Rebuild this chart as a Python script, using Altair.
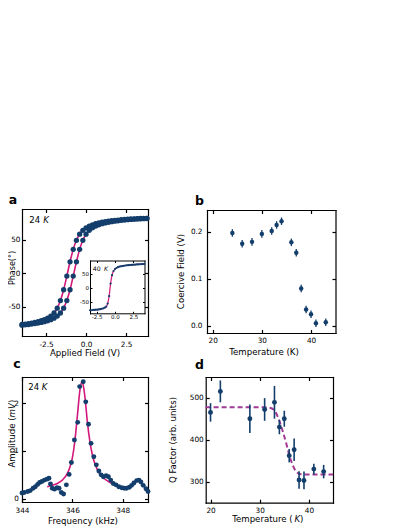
import altair as alt
import pandas as pd

W, H = 391, 519
FONT = "DejaVu Sans"
NAVY = "#133e6c"
MAGENTA = "#d3187b"
PURPLE = "#a23a95"
INK = "#000000"

# ---------------- (a) phase vs applied field, 24 K ----------------
field_a = [-4.0, -3.8, -3.6, -3.4, -3.2, -3.0, -2.8, -2.6, -2.4, -2.2,
           -2.0, -1.8, -1.6, -1.4, -1.2, -1.0, -0.8, -0.6, -0.4, -0.2,
           0.0, 0.2, 0.4, 0.6, 0.8, 1.0, 1.2, 1.4, 1.6, 1.8,
           2.0, 2.2, 2.4, 2.6, 2.8, 3.0, 3.2, 3.4, 3.6, 3.8]
phase_a_down = [-76.8, -76.1, -75.4, -74.6, -73.7, -72.6, -71.2, -69.6, -67.4, -64.2,
                -59.6, -52.3, -41.0, -24.8, -4.4, 17.0, 35.6, 49.2, 58.3, 64.1,
                67.9, 70.5, 72.4, 74.0, 75.2, 76.2, 77.0, 77.8, 78.4, 79.0,
                79.5, 80.0, 80.4, 80.8, 81.1, 81.3, 81.6, 81.8, 82.0, 82.1]
phase_a_up = [-77.8, -77.3, -76.8, -76.1, -75.4, -74.6, -73.7, -72.6, -71.2, -69.6,
              -67.4, -64.2, -59.6, -52.3, -41.0, -24.8, -4.4, 17.0, 35.6, 49.2,
              58.3, 64.1, 67.9, 70.5, 72.4, 74.0, 75.2, 76.2, 77.0, 77.8,
              78.4, 79.0, 79.5, 80.0, 80.4, 80.8, 81.1, 81.3, 81.6, 81.8]

# ---------------- (a inset) 40 K ----------------
field_in = [-3.4, -3.2, -3.0, -2.8, -2.6, -2.4, -2.2, -2.0, -1.8, -1.6,
            -1.4, -1.2, -1.0, -0.8, -0.6, -0.4, -0.2, 0.0, 0.2, 0.4,
            0.6, 0.8, 1.0, 1.2, 1.4, 1.6, 1.8, 2.0, 2.2, 2.4,
            2.6, 2.8, 3.0, 3.2, 3.4, 3.6, 3.8, 4.0]
phase_in = [-81, -81, -80, -80, -79, -79, -78, -77, -76, -74,
            -72, -68, -57, -30, 15, 45, 60, 67, 71, 74,
            76, 77, 78, 79, 80, 80.5, 81, 81.5, 82, 82.5,
            83, 83.5, 84, 84, 84.5, 85, 85, 85.5]

# ---------------- (b) coercive field vs temperature ----------------
temp_b = [24, 26, 28, 30, 32, 33, 34, 36, 37, 38, 39, 40, 41, 43]
coercive_b = [0.198, 0.175, 0.179, 0.196, 0.202, 0.215, 0.223, 0.178, 0.156, 0.080,
              0.035, 0.025, 0.006, 0.008]
coercive_err_b = [0.008, 0.008, 0.008, 0.008, 0.008, 0.008, 0.008, 0.008, 0.008, 0.008,
                  0.008, 0.008, 0.008, 0.008]

# ---------------- (c) amplitude vs frequency, 24 K ----------------
freq_c = [344.0, 344.09, 344.23, 344.33, 344.44, 344.53, 344.62, 344.70, 344.79, 344.89, 344.99,
          345.07, 345.13, 345.20, 345.29, 345.39, 345.47, 345.56, 345.65, 345.76, 345.87,
          345.96, 346.08, 346.21, 346.29, 346.43, 346.53, 346.64, 346.74, 346.85, 346.95,
          347.05, 347.14, 347.23, 347.34, 347.43, 347.52, 347.62, 347.73, 347.84, 347.96,
          348.06, 348.15, 348.26, 348.35, 348.44, 348.55, 348.64, 348.72, 348.81, 348.92,
          349.0]
amp_c = [0.12, 0.13, 0.15, 0.17, 0.22, 0.25, 0.30, 0.34, 0.36, 0.39, 0.41,
         0.43, 0.31, 0.22, 0.20, 0.23, 0.22, 0.13, 0.10, 0.29, 0.51,
         0.76, 1.23, 1.60, 2.35, 2.45, 2.03, 1.56, 1.16, 0.88, 0.71,
         0.58, 0.50, 0.46, 0.48, 0.46, 0.39, 0.32, 0.29, 0.25, 0.23,
         0.22, 0.22, 0.24, 0.28, 0.33, 0.38, 0.39, 0.35, 0.28, 0.21,
         0.15]
fit_freq_c = [345.0, 345.2, 345.4, 345.6, 345.8, 345.9, 346.0, 346.1, 346.2, 346.3,
              346.37, 346.45, 346.5, 346.6, 346.7, 346.8, 346.9, 347.0, 347.2, 347.4, 347.6]
fit_amp_c = [0.25, 0.28, 0.32, 0.39, 0.53, 0.66, 0.86, 1.22, 1.75, 2.28,
             2.45, 2.32, 2.12, 1.58, 1.18, 0.90, 0.72, 0.60, 0.45, 0.37, 0.31]

# ---------------- (d) Q factor vs temperature ----------------
temp_d = [20, 22, 28, 31, 33, 34, 35, 36, 37, 38, 39, 41, 43]
q_d = [465, 515, 450, 472, 489, 430, 450, 362, 376, 304, 303, 330, 324]
q_err_d = [22, 26, 34, 27, 39, 17, 19, 16, 27, 21, 21, 13, 16]
fit_temp_d = [19.0, 24.0, 28.0, 31.0, 32.0, 32.9, 33.8, 34.6, 35.4, 36.0, 36.7, 37.4, 38.3, 40.0, 42.0, 44.9]
fit_q_d = [477, 477, 477, 477, 476, 471, 451, 423, 391, 364, 340, 324, 318, 317, 317, 317]

# tick values
ticks_field = [-2.5, 0.0, 2.5]
ticks_phase = [-50, 0, 50]
ticks_temp = [20, 30, 40]
ticks_coercive = [0.0, 0.1, 0.2]
ticks_freq = [344, 346, 348]
ticks_amp = [0, 1, 2]
ticks_q = [300, 400, 500]

# ---------------- panel geometry (pixels within the view) ----------------
PA = dict(l=14, r=140, b=328, t=201, xd=[-4.0, 3.87], yd=[-94, 96])
PI = dict(l=82, r=136.5, b=305.3, t=252.5, xd=[-3.41, 4.03], yd=[-92, 98])
PB = dict(l=199, r=327.5, b=325, t=202, xd=[18.84, 44.98], yd=[-0.0149, 0.2468])
PC = dict(l=14, r=140, b=494, t=369, xd=[344, 349], yd=[-0.069, 2.551])
PD = dict(l=197.7, r=325, b=494.7, t=369, xd=[19.02, 44.9], yd=[250, 549.3])

HYPHEN = "replace(datum.label, '\u2212', '-')"


def xs(P):
    return alt.Scale(domain=P["xd"], range=[P["l"], P["r"]], nice=False, zero=False)


def ys(P):
    return alt.Scale(domain=P["yd"], range=[P["b"], P["t"]], nice=False, zero=False)


def frame(P, df, xf, yf, xvals, yvals, xfmt, yfmt, fs=7.3, xpad=4, ypad=3, tl=3.5, lw=1.2):
    common = dict(grid=False, title=None, labelFont=FONT, labelFontSize=fs, labelColor=INK,
                  labelFlush=False, labelOverlap=False, tickColor=INK, tickWidth=lw,
                  domainColor=INK, domainWidth=lw, domainCap="square", labelExpr=HYPHEN)

    def X(orient, off, labels, ticks, domain, pad=0):
        return alt.X(f"{xf}:Q", scale=xs(P), axis=alt.Axis(
            orient=orient, offset=off, values=xvals, format=xfmt, labels=labels,
            ticks=ticks, tickSize=tl if ticks else 0, domain=domain, labelPadding=pad, **common))

    def Y(orient, off, labels, ticks, domain, pad=0):
        return alt.Y(f"{yf}:Q", scale=ys(P), axis=alt.Axis(
            orient=orient, offset=off, values=yvals, format=yfmt, labels=labels,
            ticks=ticks, tickSize=tl if ticks else 0, domain=domain, labelPadding=pad, **common))

    base = alt.Chart(df).mark_point(opacity=0)
    l1 = base.encode(x=X("bottom", P["b"] - H, True, False, True, xpad),
                     y=Y("left", -P["l"], True, False, True, ypad))
    l2 = base.encode(x=X("top", -P["b"], False, True, False),
                     y=Y("right", P["l"] - W, False, True, False))
    l3 = base.encode(x=X("bottom", P["t"] - H, False, True, True),
                     y=Y("left", -P["r"], False, True, True))
    return [l1, l2, l3]


def txt(s, x, y, size, weight="normal", style="normal", angle=0, align="left", baseline="alphabetic"):
    return alt.Chart(pd.DataFrame({"t": [s]})).mark_text(
        font=FONT, fontSize=size, fontWeight=weight, fontStyle=style, angle=angle,
        align=align, baseline=baseline, color=INK
    ).encode(x=alt.value(x), y=alt.value(y), text="t:N")


# ---------------- tables ----------------
n_a = len(field_a)
df_a = pd.DataFrame({"field": field_a + field_a,
                     "phase": phase_a_down + phase_a_up,
                     "sweep": ["down"] * n_a + ["up"] * n_a})
df_in = pd.DataFrame({"field": field_in, "phase": phase_in})
df_b = pd.DataFrame({"temp": temp_b, "hc": coercive_b, "err": coercive_err_b})
df_b["lo"] = df_b["hc"] - df_b["err"]
df_b["hi"] = df_b["hc"] + df_b["err"]
df_c = pd.DataFrame({"freq": freq_c, "amp": amp_c})
df_cfit = pd.DataFrame({"freq": fit_freq_c, "amp": fit_amp_c})
df_d = pd.DataFrame({"temp": temp_d, "q": q_d, "err": q_err_d})
df_d["lo"] = df_d["q"] - df_d["err"]
df_d["hi"] = df_d["q"] + df_d["err"]
df_dfit = pd.DataFrame({"temp": fit_temp_d, "q": fit_q_d})

layers = []
# frames / axes
layers += frame(PA, df_a, "field", "phase", ticks_field, ticks_phase, ".1f", "d", xpad=4, ypad=2)
layers += frame(PI, df_in, "field", "phase", ticks_field, ticks_phase, ".1f", "d",
                fs=5.5, xpad=1.5, ypad=1.5, tl=2, lw=1)
layers += frame(PB, df_b, "temp", "hc", ticks_temp, ticks_coercive, "d", ".1f", xpad=3, ypad=5)
layers += frame(PC, df_c, "freq", "amp", ticks_freq, ticks_amp, "d", "d", xpad=4, ypad=3.5)
layers += frame(PD, df_d, "temp", "q", ticks_temp, ticks_q, "d", "d", xpad=4, ypad=2.5)

# (a) fit lines + points
layers.append(alt.Chart(df_a).mark_line(color=MAGENTA, strokeWidth=1.6, interpolate="monotone").encode(
    x=alt.X("field:Q", scale=xs(PA), axis=None), y=alt.Y("phase:Q", scale=ys(PA), axis=None),
    detail="sweep:N"))
layers.append(alt.Chart(df_a).mark_circle(size=28, color=NAVY, opacity=1).encode(
    x=alt.X("field:Q", scale=xs(PA), axis=None), y=alt.Y("phase:Q", scale=ys(PA), axis=None)))
# inset
layers.append(alt.Chart(df_in).mark_line(color=MAGENTA, strokeWidth=1.2, interpolate="monotone").encode(
    x=alt.X("field:Q", scale=xs(PI), axis=None), y=alt.Y("phase:Q", scale=ys(PI), axis=None)))
layers.append(alt.Chart(df_in).mark_circle(size=5, color=NAVY, opacity=1).encode(
    x=alt.X("field:Q", scale=xs(PI), axis=None), y=alt.Y("phase:Q", scale=ys(PI), axis=None)))
# (b)
layers.append(alt.Chart(df_b).mark_rule(color=NAVY, strokeWidth=1.3).encode(
    x=alt.X("temp:Q", scale=xs(PB), axis=None), y=alt.Y("lo:Q", scale=ys(PB), axis=None), y2="hi:Q"))
layers.append(alt.Chart(df_b).mark_circle(size=20, color=NAVY, opacity=1).encode(
    x=alt.X("temp:Q", scale=xs(PB), axis=None), y=alt.Y("hc:Q", scale=ys(PB), axis=None)))
# (c)
layers.append(alt.Chart(df_cfit).mark_line(color=MAGENTA, strokeWidth=1.6, interpolate="monotone").encode(
    x=alt.X("freq:Q", scale=xs(PC), axis=None), y=alt.Y("amp:Q", scale=ys(PC), axis=None)))
layers.append(alt.Chart(df_c).mark_circle(size=24, color=NAVY, opacity=1).encode(
    x=alt.X("freq:Q", scale=xs(PC), axis=None), y=alt.Y("amp:Q", scale=ys(PC), axis=None)))
# (d)
layers.append(alt.Chart(df_dfit).mark_line(color=PURPLE, strokeWidth=2, strokeDash=[5, 3],
                                            interpolate="monotone").encode(
    x=alt.X("temp:Q", scale=xs(PD), axis=None), y=alt.Y("q:Q", scale=ys(PD), axis=None)))
layers.append(alt.Chart(df_d).mark_rule(color=NAVY, strokeWidth=1.6).encode(
    x=alt.X("temp:Q", scale=xs(PD), axis=None), y=alt.Y("lo:Q", scale=ys(PD), axis=None), y2="hi:Q"))
layers.append(alt.Chart(df_d).mark_circle(size=24, color=NAVY, opacity=1).encode(
    x=alt.X("temp:Q", scale=xs(PD), axis=None), y=alt.Y("q:Q", scale=ys(PD), axis=None)))

# texts: panel letters
layers += [txt("a", 0.8, 196, 12.5, weight="bold"),
           txt("b", 187, 197, 12.5, weight="bold"),
           txt("c", 5.3, 360, 12.5, weight="bold"),
           txt("d", 187, 361, 12.5, weight="bold")]
# temperature annotations
layers += [txt("24", 21.3, 215.3, 8.5), txt("K", 35.3, 215.3, 8.5, style="italic"),
           txt("24", 20.3, 382, 8.5), txt("K", 33.7, 382, 8.5, style="italic"),
           txt("40", 84.7, 263, 6.2), txt("K", 96, 263, 6.2, style="italic")]
# axis titles
TS = 8.6
layers += [txt("Applied Field (V)", 77, 344.7, TS, align="center", baseline="middle"),
           txt("Temperature (K)", 256, 343.7, TS, align="center", baseline="middle"),
           txt("Frequency (kHz)", 75, 513, TS, align="center", baseline="middle"),
           txt("Temperature (", 224.2, 511.3, TS, baseline="middle"),
           txt("K", 286.4, 511.3, TS, style="italic", baseline="middle"),
           txt(")", 292.0, 511.3, TS, baseline="middle"),
           txt("Phase(°)", 7, 260, 8.0, angle=270, align="center", baseline="alphabetic"),
           txt("Amplitude (", 7.2, 459.6, TS, angle=270, align="left", baseline="alphabetic"),
           txt("mV", 7.2, 409.4, TS, style="italic", angle=270, align="left", baseline="alphabetic"),
           txt(")", 7.2, 395.1, TS, angle=270, align="left", baseline="alphabetic"),
           txt("Coercive Field (V)", 172.5, 263.5, TS, angle=270, align="center", baseline="middle"),
           txt("Q Factor (arb. units)", 165, 432, TS, angle=270, align="center", baseline="middle")]

chart = alt.layer(*layers).resolve_scale(
    x="independent", y="independent"
).resolve_axis(
    x="independent", y="independent"
).properties(
    width=W, height=H, padding=0, autosize=alt.AutoSizeParams(type="none")
).configure_view(stroke=None)

chart.save("out.html", embed_options={"renderer": "svg", "actions": False})
